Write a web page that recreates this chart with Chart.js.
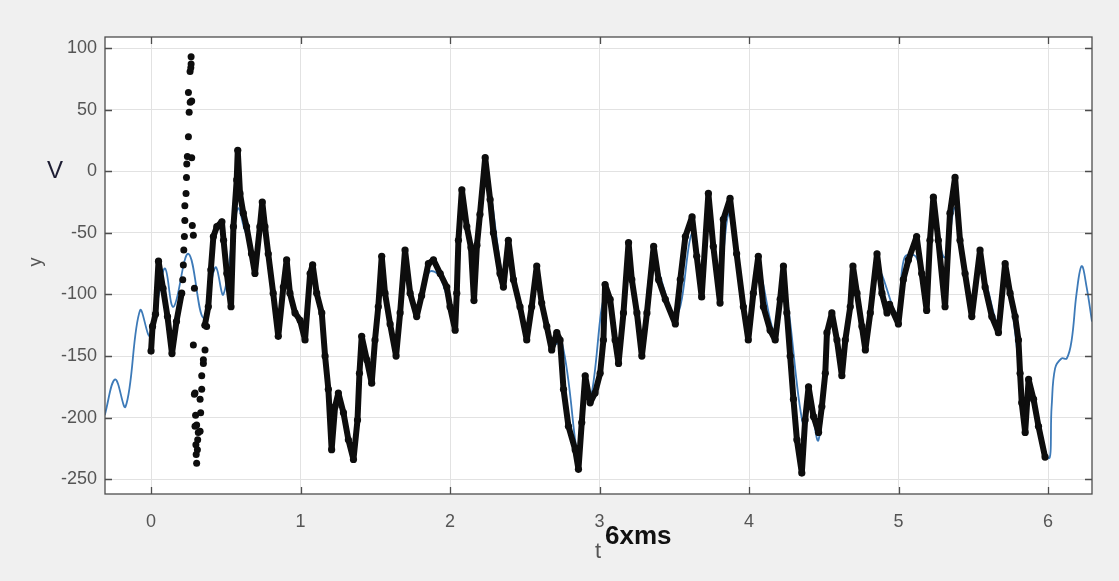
<!DOCTYPE html>
<html>
<head>
<meta charset="utf-8">
<title>V(t)</title>
<script src="https://cdn.jsdelivr.net/npm/chart.js@4.4.1/dist/chart.umd.min.js"></script>
<style>
  html, body { margin:0; padding:0; background:#f0f0f0; }
  #wrap { position:relative; width:1119px; height:581px; }
</style>
</head>
<body>
<div id="wrap"><canvas id="sig" width="1119" height="581"></canvas></div>
<script>
// ── DATA ─────────────────────────────────────────────────────────
const xTicks = [0, 1, 2, 3, 4, 5, 6];
const yTicks = [-250, -200, -150, -100, -50, 0, 50, 100];

// fitted curve (blue)
const fitT = [-0.31,-0.24,-0.17,-0.074,-0.007,0.049,0.094,0.15,0.25,0.35,0.43,0.484,0.56,0.585,0.62,0.66,0.695,0.74,0.78,0.85,
  0.905,0.96,1.03,1.08,1.16,1.21,1.25,1.36,1.41,1.47,1.54,1.64,1.70,1.78,1.86,1.93,2.03,2.08,2.12,2.16,
  2.24,2.36,2.39,2.51,2.58,2.68,2.75,2.86,2.90,2.94,3.04,3.13,3.19,3.28,3.36,3.51,3.62,3.68,3.73,3.80,
  3.87,3.99,4.06,4.17,4.23,4.36,4.40,4.465,4.55,4.62,4.69,4.78,4.86,4.99,5.04,5.12,5.19,5.23,5.31,5.38,
  5.49,5.55,5.67,5.72,5.85,5.88,6.003,6.024,6.047,6.09,6.125,6.158,6.191,6.225,6.258,6.294];
const fitV = [-198,-169,-191,-113,-134,-102,-79,-110,-67,-119,-78,-100,-40,-30,-45,-60,-80,-40,-65,-125,
  -80,-110,-130,-85,-140,-205,-185,-230,-140,-165,-95,-140,-80,-112,-82,-85,-120,-30,-50,-62,
  -5,-90,-65,-130,-85,-140,-140,-232,-175,-185,-100,-148,-75,-140,-75,-118,-50,-95,-35,-85,
  -35,-130,-80,-130,-90,-205,-185,-218,-120,-155,-95,-135,-80,-115,-70,-70,-105,-40,-70,-30,
  -110,-80,-125,-85,-195,-180,-233,-191,-160,-152,-152,-137,-99,-77,-94,-122];

// measured samples (black), null = break around the spike
const sampT = [0.00,0.01,0.03,0.05,0.08,0.11,0.14,0.17,0.205,0.28,
  0.36,0.383,0.40,0.417,0.44,0.474,0.485,0.507,0.535,0.551,0.573,0.58,0.595,0.617,0.639,0.672,0.695,0.728,0.744,0.762,
  0.784,0.817,0.851,0.885,0.907,0.929,0.963,0.997,1.03,1.064,1.081,1.108,1.142,1.164,1.186,1.208,1.231,1.253,1.287,1.32,
  1.354,1.381,1.394,1.409,1.443,1.476,1.498,1.52,1.543,1.565,1.599,1.639,1.666,1.699,1.733,1.777,1.81,1.855,1.889,1.934,
  1.978,2.0,2.034,2.045,2.056,2.079,2.112,2.14,2.16,2.18,2.2,2.235,2.268,2.29,2.334,2.357,2.39,2.424,2.468,2.513,
  2.546,2.58,2.613,2.647,2.68,2.714,2.736,2.759,2.792,2.837,2.859,2.881,2.904,2.937,2.97,3.004,3.026,3.037,3.071,3.104,
  3.127,3.16,3.194,3.216,3.25,3.283,3.317,3.362,3.395,3.44,3.507,3.54,3.574,3.619,3.65,3.683,3.728,3.761,3.806,3.828,
  3.873,3.917,3.962,3.995,4.029,4.062,4.096,4.141,4.175,4.208,4.23,4.253,4.275,4.297,4.32,4.353,4.375,4.398,4.431,4.465,
  4.487,4.51,4.521,4.554,4.588,4.621,4.644,4.677,4.695,4.722,4.755,4.778,4.811,4.856,4.889,4.923,4.94,4.999,5.032,5.066,
  5.121,5.155,5.188,5.21,5.233,5.266,5.311,5.344,5.378,5.411,5.445,5.49,5.545,5.579,5.624,5.668,5.713,5.746,5.78,5.802,
  5.813,5.824,5.847,5.87,5.903,5.936,5.98];
const sampV = [-146,-126,-116,-73,-95,-118,-148,-122,-99,null,
  -125,-110,-80,-53,-45,-41,-56,-83,-110,-45,-7,17,-18,-34,-45,-67,-83,-45,-25,-45,
  -67,-99,-134,-94,-72,-99,-115,-121,-137,-83,-76,-99,-115,-150,-177,-226,-191,-180,-196,-218,
  -234,-202,-164,-134,-153,-172,-137,-110,-69,-99,-124,-150,-115,-64,-99,-118,-101,-75,-72,-83,
  -94,-110,-129,-99,-56,-15,-45,-62,-105,-60,-35,11,-23,-50,-83,-94,-56,-88,-110,-137,
  -110,-77,-107,-126,-145,-131,-137,-177,-207,-226,-242,-204,-166,-188,-180,-164,-137,-92,-104,-137,
  -156,-115,-58,-88,-115,-150,-115,-61,-88,-104,-124,-88,-53,-37,-69,-102,-18,-61,-107,-39,
  -22,-67,-110,-137,-99,-69,-110,-129,-137,-104,-77,-115,-150,-185,-218,-245,-202,-175,-199,-212,
  -191,-164,-131,-115,-137,-166,-137,-110,-77,-99,-126,-145,-115,-67,-99,-115,-108,-124,-88,-72,
  -53,-83,-113,-56,-21,-56,-110,-34,-5,-56,-83,-118,-64,-94,-118,-131,-75,-99,-118,-137,
  -164,-188,-212,-169,-185,-207,-232];

// isolated samples on the fast spike near t = 0.3
const spikeT = [0.212,0.216,0.219,0.223,0.226,0.226,0.234,0.237,0.239,0.243,0.250,0.255,0.250,0.262,0.261,0.268,0.268,0.266,0.272,0.272,
  0.276,0.283,0.290,0.283,0.294,0.290,0.298,0.305,0.294,0.316,0.300,0.310,0.312,0.302,0.305,0.328,0.332,0.328,0.339,0.339,
  0.350,0.350,0.361,0.372];
const spikeV = [-88,-76,-64,-53,-40,-28,-18,-5,6,12,28,48,64,56,81,87,93,84,57,11,
  -44,-52,-95,-141,-180,-181,-198,-206,-207,-212,-222,-226,-218,-230,-237,-211,-196,-185,-177,-166,
  -156,-153,-145,-126];

// ── RENDER ───────────────────────────────────────────────────────
const FONT = '"Liberation Sans", Arial, sans-serif';
const pts = (ts, vs) => ts.map((t, i) => ({ x: t, y: vs[i] }));

const plotBg = {
  id: 'plotBg',
  beforeDraw(chart) {
    const { ctx, chartArea: a } = chart;
    ctx.save();
    ctx.fillStyle = '#ffffff';
    ctx.fillRect(a.left, a.top, a.right - a.left, a.bottom - a.top);
    ctx.restore();
  }
};

// box + inward ticks on all four sides
const frame = {
  id: 'frame',
  afterDraw(chart) {
    const { ctx, chartArea: a, scales: { x, y } } = chart;
    const len = 7;
    ctx.save();
    ctx.strokeStyle = '#4d4d4d';
    ctx.lineWidth = 1.3;
    ctx.strokeRect(a.left, a.top, a.right - a.left, a.bottom - a.top);
    ctx.beginPath();
    xTicks.forEach(v => {
      const px = Math.round(x.getPixelForValue(v)) + 0.5;
      ctx.moveTo(px, a.bottom); ctx.lineTo(px, a.bottom - len);
      ctx.moveTo(px, a.top);    ctx.lineTo(px, a.top + len);
    });
    yTicks.forEach(v => {
      const py = Math.round(y.getPixelForValue(v)) + 0.5;
      ctx.moveTo(a.left, py);  ctx.lineTo(a.left + len, py);
      ctx.moveTo(a.right, py); ctx.lineTo(a.right - len, py);
    });
    ctx.stroke();
    ctx.restore();
  }
};

const labels = {
  id: 'labels',
  afterDraw(chart) {
    const { ctx } = chart;
    ctx.save();
    ctx.textAlign = 'center';
    ctx.textBaseline = 'middle';
    ctx.fillStyle = '#1d1d33';
    ctx.font = '24px ' + FONT;
    ctx.fillText('V', 55, 171);
    ctx.fillStyle = '#555';
    ctx.font = '18px ' + FONT;
    ctx.save();
    ctx.translate(36, 262);
    ctx.rotate(-Math.PI / 2);
    ctx.fillText('y', 0, 0);
    ctx.restore();
    ctx.font = '22px ' + FONT;
    ctx.fillText('t', 598, 552);
    ctx.fillStyle = '#111';
    ctx.font = 'bold 26px ' + FONT;
    ctx.textAlign = 'left';
    ctx.fillText('6xms', 605, 537);
    ctx.restore();
  }
};

new Chart(document.getElementById('sig'), {
  type: 'line',
  data: {
    datasets: [
      { label: 'samples', data: pts(sampT, sampV), order: 1,
        borderColor: '#0d0d0d', backgroundColor: '#0d0d0d', borderWidth: 6, tension: 0,
        borderJoinStyle: 'round', borderCapStyle: 'round',
        pointRadius: 3.6, pointBorderWidth: 0, spanGaps: false },
      { label: 'spike', data: pts(spikeT, spikeV), order: 2, showLine: false,
        backgroundColor: '#0d0d0d', borderColor: '#0d0d0d', pointRadius: 3.5, pointBorderWidth: 0 },
      { label: 'fit', data: pts(fitT, fitV), order: 3,
        borderColor: '#3d7ab8', borderWidth: 1.8, tension: 0.4, pointRadius: 0 }
    ]
  },
  options: {
    responsive: false,
    animation: false,
    devicePixelRatio: 1,
    layout: { padding: { left: 0, right: 27, top: 37, bottom: 0 } },
    plugins: { legend: { display: false }, tooltip: { enabled: false } },
    scales: {
      x: {
        type: 'linear', min: -0.308, max: 6.294,
        afterBuildTicks: s => { s.ticks = xTicks.map(v => ({ value: v })); },
        afterFit: s => { s.height = 87; },
        grid: { color: '#e2e2e2', lineWidth: 1, drawTicks: false },
        border: { display: false },
        ticks: { color: '#555', font: { size: 18, family: FONT }, padding: 17, maxRotation: 0, autoSkip: false }
      },
      y: {
        type: 'linear', min: -262, max: 109,
        afterBuildTicks: s => { s.ticks = yTicks.map(v => ({ value: v })); },
        afterFit: s => { s.width = 105; },
        grid: { color: '#e2e2e2', lineWidth: 1, drawTicks: false },
        border: { display: false },
        ticks: { color: '#555', font: { size: 18, family: FONT }, padding: 8 }
      }
    }
  },
  plugins: [plotBg, frame, labels]
});
</script>
</body>
</html>
